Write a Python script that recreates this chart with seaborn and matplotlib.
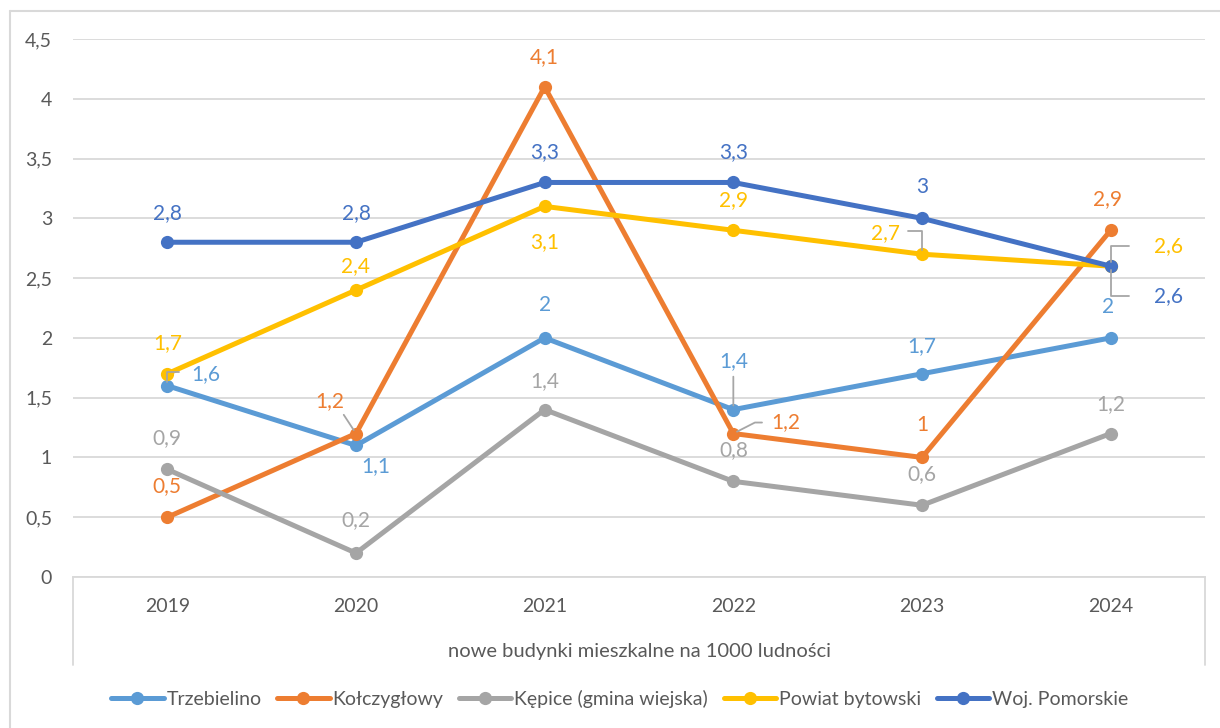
import matplotlib
matplotlib.use("Agg")
import matplotlib.pyplot as plt
from matplotlib.lines import Line2D
import seaborn as sns
import pandas as pd

years = ["2019", "2020", "2021", "2022", "2023", "2024"]
series_names = ["Trzebielino", "Kołczygłowy", "Kępice (gmina wiejska)", "Powiat bytowski", "Woj. Pomorskie"]
trzebielino = [1.6, 1.1, 2.0, 1.4, 1.7, 2.0]
kolczyglowy = [0.5, 1.2, 4.1, 1.2, 1.0, 2.9]
kepice = [0.9, 0.2, 1.4, 0.8, 0.6, 1.2]
powiat = [1.7, 2.4, 3.1, 2.9, 2.7, 2.6]
pomorskie = [2.8, 2.8, 3.3, 3.3, 3.0, 2.6]
y_ticks = [0, 0.5, 1, 1.5, 2, 2.5, 3, 3.5, 4, 4.5]
axis_title = "nowe budynki mieszkalne na 1000 ludności"

colors = ["#5B9BD5", "#ED7D31", "#A5A5A5", "#FFC000", "#4472C4"]
all_values = [trzebielino, kolczyglowy, kepice, powiat, pomorskie]

# label offsets in pixels (dx, dy)
offsets = [
    [(38, 12), (20, -21), (0, 33), (0, 49), (0, 28), (-3, 31)],
    [(0, 31), (-26, 32), (0, 30), (52, 11), (0, 32), (-3, 31)],
    [(0, 31), (0, 33), (0, 29), (0, 31), (0, 31), (0, 29)],
    [(0, 31), (0, 24), (0, -36), (0, 30), (-37, 21), (58, 20)],
    [(0, 29), (0, 29), (0, 30), (0, 30), (0, 31), (58, -30)],
]
# leaders: (series, idx) -> (relpos, connectionstyle, shrinkA)
leaders = {
    (0, 0): ((0, 0.6), "angle,angleA=0,angleB=90,rad=0", 6),
    (1, 1): ((0.9, 0.0), "arc3,rad=0", 0),
    (0, 3): ((0.5, 0), "arc3,rad=0", 2),
    (1, 3): ((0, 0.5), "angle,angleA=0,angleB=27,rad=0", 4),
    (3, 4): ((1, 0.6), "angle,angleA=0,angleB=90,rad=0", 4),
    (3, 5): ((0, 0.5), "angle,angleA=0,angleB=90,rad=0", 16),
    (4, 5): ((0, 0.5), "angle,angleA=0,angleB=90,rad=0", 16),
}

rows = []
for name, vals in zip(series_names, all_values):
    for i, v in enumerate(vals):
        rows.append({"x": i, "value": v, "series": name})
df = pd.DataFrame(rows)

sns.set_theme(style="white")
plt.rcParams["font.family"] = ["Lato", "DejaVu Sans"]

fig = plt.figure(figsize=(12.2, 7.28), dpi=100)
W, H = 1220, 728
ax = fig.add_axes([73 / W, (H - 577) / H, (1205 - 73) / W, (577 - 39) / H])

sns.lineplot(data=df, x="x", y="value", hue="series", hue_order=series_names,
             palette=colors, marker="o", markersize=9.5, markeredgewidth=0,
             linewidth=3.6, sort=False, errorbar=None, legend=False, ax=ax, zorder=3)

ax.set_xlim(-0.5, 5.5)
ax.set_ylim(0, 4.5)
ax.set_yticks(y_ticks)
ax.set_yticklabels([f"{t:g}".replace(".", ",") for t in y_ticks])
ax.set_xticks(range(len(years)))
ax.set_xticklabels(years)
ax.tick_params(axis="y", length=0, pad=15, labelsize=14, labelcolor="#595959")
ax.tick_params(axis="x", length=0, pad=15, labelsize=14, labelcolor="#595959")
ax.grid(axis="y", color="#D9D9D9", linewidth=1.3, zorder=0)
ax.set_axisbelow(True)
for s in ["left", "right", "top"]:
    ax.spines[s].set_visible(False)
ax.spines["bottom"].set_color("#D9D9D9")
ax.spines["bottom"].set_linewidth(1.3)
ax.set_xlabel("")
ax.set_ylabel("")

# category axis box
box_bottom = -(665 - 577) / (577 - 39)
for xv in (0, 1):
    ax.add_line(Line2D([xv, xv], [0, box_bottom], transform=ax.transAxes,
                       color="#D9D9D9", linewidth=1.3, clip_on=False))
ax.text(0.5, -(652 - 577) / (577 - 39), axis_title, transform=ax.transAxes,
        ha="center", va="center", fontsize=14.5, color="#595959")

# data labels
for si, (vals, col) in enumerate(zip(all_values, colors)):
    for i, v in enumerate(vals):
        dx, dy = offsets[si][i]
        lab = f"{v:g}".replace(".", ",")
        kw = dict(xy=(i, v), xytext=(dx, dy), textcoords="offset pixels",
                  ha="center", va="center", fontsize=15, color=col, zorder=5)
        if (si, i) in leaders:
            relpos, cs, shA = leaders[(si, i)]
            kw["arrowprops"] = dict(arrowstyle="-", color="#A6A6A6", lw=1.3,
                                    relpos=relpos, connectionstyle=cs,
                                    shrinkA=shA, shrinkB=3)
        ax.annotate(lab, **kw)

# legend
handles = ax.get_lines()[:len(series_names)]
fig.legend(handles, series_names, loc="center", bbox_to_anchor=(0.508, (H - 699) / H),
           ncol=5, frameon=False, handlelength=2.7, handletextpad=0.15,
           columnspacing=0.8, fontsize=14, labelcolor="#595959", numpoints=1)

# outer chart border (left and top visible)
fig.add_artist(Line2D([10 / W, 10 / W], [0, (H - 11) / H], transform=fig.transFigure,
                      color="#D9D9D9", linewidth=1.5))
fig.add_artist(Line2D([10 / W, 1], [(H - 11) / H, (H - 11) / H], transform=fig.transFigure,
                      color="#D9D9D9", linewidth=1.5))

fig.savefig("out.png", dpi=100, facecolor="white")
